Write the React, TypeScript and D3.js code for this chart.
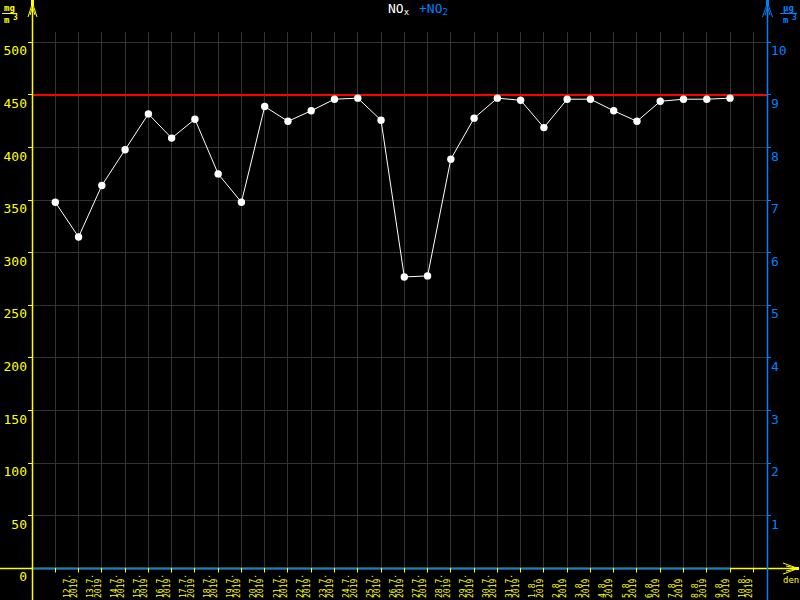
import React from "react";
import * as d3 from "d3";

const dates: string[] = [
  "12.7.", "13.7.", "14.7.", "15.7.", "16.7.", "17.7.", "18.7.", "19.7.", "20.7.", "21.7.",
  "22.7.", "23.7.", "24.7.", "25.7.", "26.7.", "27.7.", "28.7.", "29.7.", "30.7.", "31.7.",
  "1.8.", "2.8.", "3.8.", "4.8.", "5.8.", "6.8.", "7.8.", "8.8.", "9.8.", "10.8.",
];
const years: string[] = dates.map(() => "2019");
const noxValues: number[] = [
  348, 315, 364, 398, 432, 409, 427, 375, 348, 439,
  425, 435, 446, 447, 426, 277, 278, 389, 428, 447,
  445, 419, 446, 446, 435, 425, 444, 446, 446, 447,
];
const leftTicks: number[] = [0, 50, 100, 150, 200, 250, 300, 350, 400, 450, 500];
const rightTicks: number[] = [1, 2, 3, 4, 5, 6, 7, 8, 9, 10];
const limitValue = 450;

const YELLOW = "#ffff00";
const BLUE = "#0080ff";
const GRID = "#333333";
const MONO = "'DejaVu Sans Mono', monospace";

export default function App() {
  const W = 800, H = 600;
  const axL = 32, axR = 767, axB = 568, gridTop = 32;
  const x = d3.scaleLinear().domain([0, dates.length]).range([55.3, 753.3]);
  const y = d3.scaleLinear().domain([0, 500]).range([568.3, 42.4]);
  const yR = d3.scaleLinear().domain([0, 10]).range([568.3, 42.4]);
  const crisp = (v: number) => Math.floor(v) + 0.5;
  const xTicks = d3.range(0, dates.length + 1);
  const line = d3
    .line<number>()
    .x((_, i) => x(i))
    .y((d) => y(d));
  const lastX = x(noxValues.length - 1);

  return (
    <svg width={W} height={H} style={{ position: "absolute", left: 0, top: 0, display: "block" }}>
      <rect x={0} y={0} width={W} height={H} fill="#000" />
      {/* vertical grid */}
      {xTicks.map((t) => (
        <line key={"vg" + t} x1={crisp(x(t))} x2={crisp(x(t))} y1={gridTop} y2={axB} stroke={GRID} strokeWidth={1} />
      ))}
      {/* horizontal grid */}
      {leftTicks.filter((v) => v > 0).map((v) => (
        <line key={"hg" + v} x1={axL} x2={axR} y1={crisp(y(v))} y2={crisp(y(v))} stroke={GRID} strokeWidth={1} />
      ))}
      {/* limit line */}
      <line x1={axL} x2={axR} y1={y(limitValue)} y2={y(limitValue)} stroke="#ff0000" strokeWidth={2} />
      {/* x axis */}
      <line x1={0} x2={797} y1={crisp(y(0))} y2={crisp(y(0))} stroke={YELLOW} strokeWidth={1.5} />
      <line x1={axL} x2={lastX} y1={crisp(y(0))} y2={crisp(y(0))} stroke={BLUE} strokeWidth={1.5} />
      <path d={`M783,563 L798,568.5 L783,574 M786,566 L798,568.5 L786,571`} stroke={YELLOW} fill="none" strokeWidth={1} />
      <rect x={795} y={567} width={4} height={3} fill={YELLOW} />
      {xTicks.map((t) => (
        <line key={"xt" + t} x1={crisp(x(t))} x2={crisp(x(t))} y1={axB} y2={axB + 4.5} stroke={YELLOW} strokeWidth={1} />
      ))}
      {dates.map((d, i) => {
        const cx = x(i);
        return (
          <g key={"xl" + i} fill={YELLOW} fontFamily={MONO} fontSize={8}>
            <text transform={`translate(${cx + 14.8},598) rotate(-90)`}>{d}</text>
            <text transform={`translate(${cx + 22},598) rotate(-90)`}>{years[i]}</text>
          </g>
        );
      })}
      <text x={783} y={583} fill={YELLOW} fontFamily={MONO} fontSize={9}>den</text>
      {/* left axis */}
      <line x1={crisp(axL)} x2={crisp(axL)} y1={0} y2={H} stroke={YELLOW} strokeWidth={1.5} />
      <path d={`M28,17 L32.5,3 L37,17 M30,15 L32.5,7 L35,15`} stroke={YELLOW} fill="none" strokeWidth={1} />
      <rect x={31} y={0} width={3} height={6} fill={YELLOW} />
      {leftTicks.filter((v) => v > 0).map((v) => (
        <line key={"lt" + v} x1={28} x2={axL} y1={crisp(y(v))} y2={crisp(y(v))} stroke={YELLOW} strokeWidth={1} />
      ))}
      {leftTicks.map((v) => (
        <text key={"ll" + v} x={27} y={y(v) + 13} textAnchor="end" fill={YELLOW} fontFamily={MONO} fontSize={13}>{v}</text>
      ))}
      <g fill={YELLOW} fontFamily={MONO} fontSize={9} fontWeight="bold">
        <text x={4} y={11}>mg</text>
        <line x1={2} x2={17} y1={13.5} y2={13.5} stroke={YELLOW} strokeWidth={1} />
        <text x={4} y={23}>m</text>
        <text x={13} y={20} fontSize={8}>3</text>
      </g>
      {/* right axis */}
      <line x1={crisp(axR)} x2={crisp(axR)} y1={0} y2={H} stroke={BLUE} strokeWidth={1.5} />
      <path d={`M762.5,17 L767.5,3 L772.5,17 M765,15 L767.5,7 L770,15`} stroke={BLUE} fill="none" strokeWidth={1} />
      <rect x={766} y={0} width={3} height={6} fill={BLUE} />
      {rightTicks.map((v) => (
        <line key={"rt" + v} x1={axR} x2={771} y1={crisp(yR(v))} y2={crisp(yR(v))} stroke={BLUE} strokeWidth={1} />
      ))}
      {rightTicks.map((v) => (
        <text key={"rl" + v} x={771} y={yR(v) + 13} textAnchor="start" fill={BLUE} fontFamily={MONO} fontSize={13}>{v}</text>
      ))}
      <g fill={BLUE} fontFamily={MONO} fontSize={9} fontWeight="bold">
        <text x={783} y={11}>µg</text>
        <line x1={780} x2={797} y1={13.5} y2={13.5} stroke={BLUE} strokeWidth={1} />
        <text x={783} y={23}>m</text>
        <text x={792} y={20} fontSize={8}>3</text>
      </g>
      {/* title */}
      <g fontFamily={MONO} fontSize={13}>
        <text x={388} y={13} fill="#ffffff">NO<tspan fontSize={9} dy={2}>x</tspan></text>
        <text x={419} y={13} fill={BLUE}>+NO<tspan fontSize={9} dy={2}>2</tspan></text>
      </g>
      {/* data */}
      <path d={line(noxValues) || ""} fill="none" stroke="#ffffff" strokeWidth={1} />
      {noxValues.map((v, i) => (
        <circle key={"p" + i} cx={x(i)} cy={y(v)} r={3.7} fill="#ffffff" />
      ))}
    </svg>
  );
}
